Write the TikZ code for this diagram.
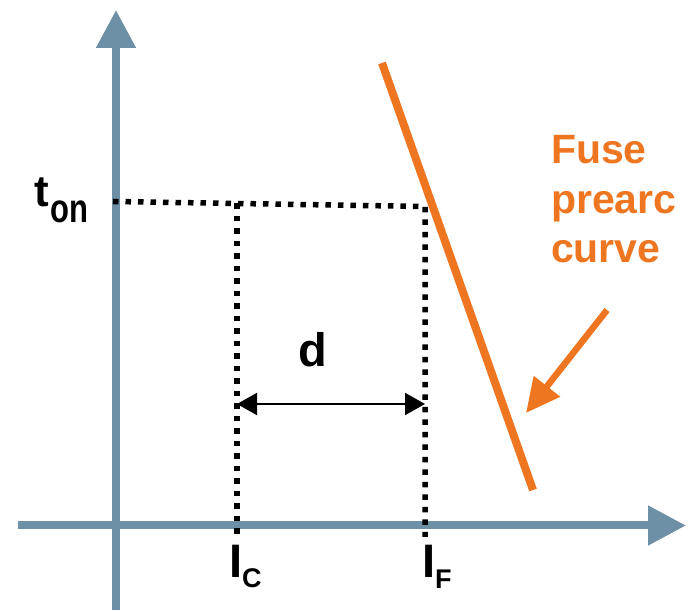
\documentclass[tikz,border=0pt]{standalone}
\usepackage{fontspec}
\setmainfont{Liberation Sans}
\usepackage{xcolor}
\usepackage{tikz}
\usetikzlibrary{arrows.meta}
\definecolor{axisblue}{RGB}{110,144,166}
\definecolor{fuseorange}{RGB}{238,118,33}

\begin{document}
\begin{tikzpicture}[x=1pt, y=1pt, line join=round,
    axis/.style={draw=axisblue, line width=8pt, -{Triangle[length=38pt,width=38pt]}},
    guide/.style={line width=5.5pt, line cap=butt, dash pattern=on 5.5pt off 7pt},
    lbl/.style={inner sep=0pt, outer sep=0pt}]
  \useasboundingbox (0,0) rectangle (690,610);
  % axes
  \coordinate (ybot) at (116,0);
  \coordinate (ytop) at (116,600);
  \coordinate (xleft) at (18,84.5);
  \coordinate (xright) at (686,84.5);
  \draw[axis] (ybot) -- (ytop);
  \draw[axis] (xleft) -- (xright);
  % dotted guides
  \coordinate (tstart) at (113,408.5);
  \coordinate (tc) at (237,406.5);
  \coordinate (tf) at (425,403.5);
  \coordinate (cbot) at (237,73);
  \coordinate (fbot) at (425,73);
  \draw[guide] (tstart) -- (tf) -- (fbot);
  \draw[guide] (tc) -- (cbot);
  % distance d
  \coordinate (dl) at (237,206);
  \coordinate (dr) at (425,206);
  \draw[line width=2pt, {Triangle[length=20pt,width=22pt]}-{Triangle[length=20pt,width=22pt]}] (dl) -- (dr);
  \node[lbl, anchor=base, font=\bfseries\fontsize{47}{50}\selectfont] (d) at (313,243) {d};
  % labels
  \node[lbl, anchor=base west, font=\bfseries] (ton) at (34,403)
    {{\fontsize{44}{44}\selectfont t}\kern2pt\raisebox{-16pt}{\fontsize{31}{31}\selectfont\scalebox{1}[1.3]{on}}};
  \node[lbl, anchor=base west, font=\bfseries] (ic) at (229,33)
    {{\fontsize{47}{47}\selectfont I}\raisebox{-10pt}{\fontsize{27}{27}\selectfont C}};
  \node[lbl, anchor=base west, font=\bfseries] (if) at (422,33)
    {{\fontsize{47}{47}\selectfont I}\raisebox{-11pt}{\fontsize{27}{27}\selectfont F}};
  % fuse curve
  \coordinate (ctop) at (382,547);
  \coordinate (cend) at (533,120);
  \draw[fuseorange, line width=8pt, line cap=butt] (ctop) -- (cend);
  \node[lbl, anchor=base west, align=left, text=fuseorange, font=\bfseries\fontsize{41}{49.5}\selectfont] (fuse) at (551,347)
    {Fuse\\prearc\\curve};
  \coordinate (pstart) at (607,300);
  \coordinate (ptip) at (526,197);
  \draw[fuseorange, line width=6.5pt, -{Triangle[length=34pt,width=32pt]}] (pstart) -- (ptip);
\end{tikzpicture}
\end{document}
